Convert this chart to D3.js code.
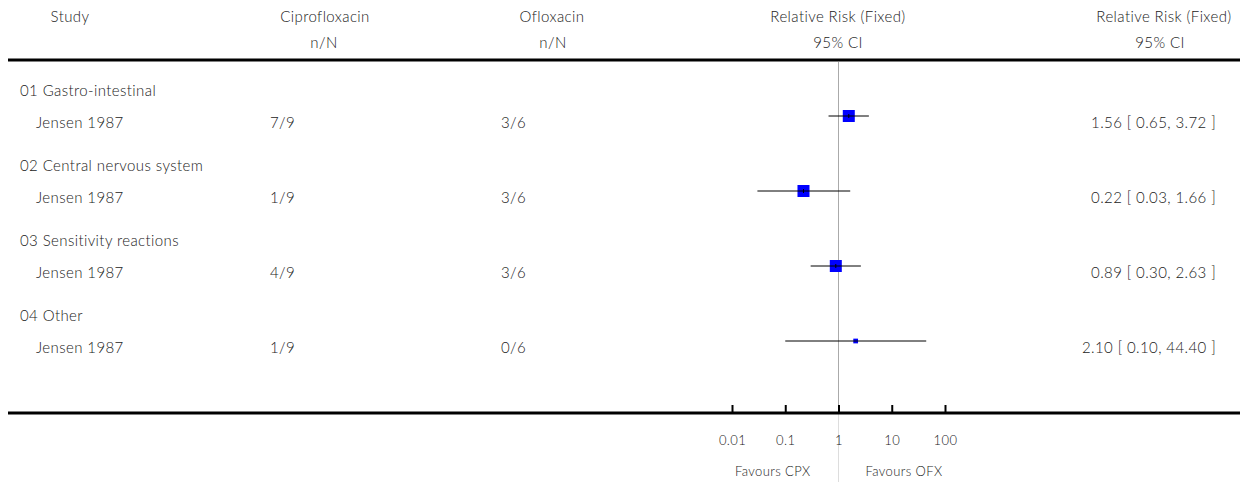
<!DOCTYPE html>
<html>
<head>
<meta charset="utf-8">
<script src="https://cdn.jsdelivr.net/npm/d3@7"></script>
<style>
  body { margin: 0; background: #fff; }
  svg text { font-family: Lato, "Open Sans", sans-serif; font-size: 15px; font-weight: 300; fill: #1a1a1a; letter-spacing: 0.4px; }
</style>
</head>
<body>
<svg id="forest"></svg>
<script>
// values
var groups = ["01 Gastro-intestinal", "02 Central nervous system", "03 Sensitivity reactions", "04 Other"];
var studies = ["Jensen 1987", "Jensen 1987", "Jensen 1987", "Jensen 1987"];
var cipro = ["7/9", "1/9", "4/9", "1/9"];
var oflox = ["3/6", "3/6", "3/6", "0/6"];
var rr = [1.56, 0.22, 0.89, 2.10];
var lower = [0.65, 0.03, 0.30, 0.10];
var upper = [3.72, 1.66, 2.63, 44.40];
var weight = [1.8, 1.8, 1.8, 0.28];
var tickValues = [0.01, 0.1, 1, 10, 100];
var tickLabels = ["0.01", "0.1", "1", "10", "100"];

document.addEventListener("DOMContentLoaded", function() {
  drawForest();
});

function drawForest(){

  var svgWidth = 1250, svgHeight = 482;
  var svg = d3.select('#forest')
    .attr("width", svgWidth)
    .attr("height", svgHeight);

  var rows = rr.map(function(d, i){
    return { group: groups[i], study: studies[i], cipro: cipro[i], oflox: oflox[i],
             rr: d, lo: lower[i], hi: upper[i], w: weight[i], i: i };
  });

  //scales
  var x = d3.scaleLog().domain([0.01, 100]).range([732, 945]);
  var y = d3.scaleLinear().domain([0, 3]).range([116, 341]);
  var box = d3.scaleSqrt().domain([0, d3.max(weight)]).range([0, 12]);
  var axisY = 413;

  //header
  var head = svg.append('g');
  var h1 = [["Study", 70], ["Ciprofloxacin", 325], ["Ofloxacin", 552],
            ["Relative Risk (Fixed)", 838], ["Relative Risk (Fixed)", 1164]];
  var h2 = [["n/N", 324], ["n/N", 553], ["95% CI", 838], ["95% CI", 1160]];
  head.selectAll("text.h1").data(h1).enter().append("text")
    .attr("x", d => d[1]).attr("y", 21.5)
    .attr("text-anchor", "middle").text(d => d[0]);
  head.selectAll("text.h2").data(h2).enter().append("text")
    .attr("x", d => d[1]).attr("y", 48)
    .attr("text-anchor", "middle").text(d => d[0]);

  svg.append("line")
    .attr("x1", 8).attr("x2", 1240).attr("y1", 60).attr("y2", 60)
    .attr("stroke", "#000").attr("stroke-width", 3);

  //line of no effect
  svg.append("line")
    .attr("x1", x(1)).attr("x2", x(1)).attr("y1", 62).attr("y2", axisY)
    .attr("stroke", "#aaa").attr("stroke-width", 1);
  svg.append("line")
    .attr("x1", x(1)).attr("x2", x(1)).attr("y1", axisY).attr("y2", svgHeight)
    .attr("stroke", "#ddd").attr("stroke-width", 1);

  //table text
  var row = svg.selectAll("g.row").data(rows).enter().append("g").attr("class", "row");
  row.append("text").attr("x", 20).attr("y", d => y(d.i) - 20).text(d => d.group);
  row.append("text").attr("x", 36).attr("y", d => y(d.i) + 11.5).text(d => d.study);
  row.append("text").attr("x", 295).attr("y", d => y(d.i) + 11.5)
    .attr("text-anchor", "end").text(d => d.cipro);
  row.append("text").attr("x", 526).attr("y", d => y(d.i) + 11.5)
    .attr("text-anchor", "end").text(d => d.oflox);
  row.append("text").attr("x", 1216).attr("y", d => y(d.i) + 11.5)
    .attr("text-anchor", "end")
    .text(d => `${d.rr.toFixed(2)} [ ${d.lo.toFixed(2)}, ${d.hi.toFixed(2)} ]`);

  //boxes and CIs
  row.append("rect")
    .attr("x", d => x(d.rr) - box(d.w) / 2)
    .attr("y", d => y(d.i) - box(d.w) / 2)
    .attr("width", d => box(d.w))
    .attr("height", d => box(d.w))
    .attr("fill", "#0000ff");
  row.append("line")
    .attr("x1", d => x(d.lo)).attr("x2", d => x(d.hi))
    .attr("y1", d => y(d.i)).attr("y2", d => y(d.i))
    .attr("stroke", "#000").attr("stroke-width", 1);
  row.filter(d => d.w > 1).append("line")
    .attr("x1", d => x(d.rr)).attr("x2", d => x(d.rr))
    .attr("y1", d => y(d.i) - 2).attr("y2", d => y(d.i) + 2)
    .attr("stroke", "#000").attr("stroke-width", 1);

  //bottom axis
  svg.append("line")
    .attr("x1", 8).attr("x2", 1240).attr("y1", axisY).attr("y2", axisY)
    .attr("stroke", "#000").attr("stroke-width", 3);

  var axis = d3.axisBottom(x)
    .tickValues(tickValues)
    .tickFormat((d, i) => tickLabels[i])
    .tickSizeInner(-7)
    .tickSizeOuter(0)
    .tickPadding(24);

  var ax = svg.append("g")
    .attr("transform", `translate(0, ${axisY - 1})`)
    .call(axis);
  ax.select(".domain").remove();
  ax.selectAll(".tick line").attr("stroke", "#000").attr("stroke-width", 2);
  ax.selectAll(".tick text")
    .attr("fill", "#1a1a1a")
    .style("font-family", "Lato, sans-serif")
    .style("font-weight", "300")
    .style("font-size", "13px");

  svg.append("text").attr("x", x(1) - 28).attr("y", 476)
    .attr("text-anchor", "end").style("font-size", "13px").text("Favours CPX");
  svg.append("text").attr("x", x(1) + 27).attr("y", 476)
    .attr("text-anchor", "start").style("font-size", "13px").text("Favours OFX");
}
</script>
</body>
</html>
